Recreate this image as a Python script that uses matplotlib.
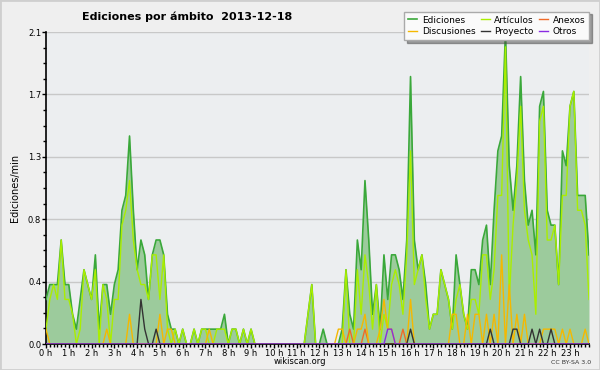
import numpy as np
import matplotlib
matplotlib.use('Agg')
import matplotlib.pyplot as plt
from matplotlib.ticker import MultipleLocator, FixedLocator
from matplotlib.patches import Rectangle

# Ediciones/min por tramos de 10 minutos (6 por hora)
ediciones = [
    0.3, 0.4, 0.4, 0.4, 0.7, 0.4,   # 0 h
    0.4, 0.2, 0.1, 0.3, 0.5, 0.4,   # 1 h
    0.3, 0.6, 0.1, 0.4, 0.4, 0.2,   # 2 h
    0.4, 0.5, 0.9, 1.0, 1.4, 0.9,   # 3 h
    0.5, 0.7, 0.6, 0.3, 0.6, 0.7,   # 4 h
    0.7, 0.6, 0.2, 0.1, 0.1, 0.0,   # 5 h
    0.1, 0.0, 0.0, 0.1, 0.0, 0.1,   # 6 h
    0.1, 0.1, 0.1, 0.1, 0.1, 0.2,   # 7 h
    0.0, 0.1, 0.1, 0.0, 0.1, 0.0,   # 8 h
    0.1, 0.0, 0.0, 0.0, 0.0, 0.0,   # 9 h
    0.0, 0.0, 0.0, 0.0, 0.0, 0.0,   # 10 h
    0.0, 0.0, 0.0, 0.2, 0.4, 0.0,   # 11 h
    0.0, 0.1, 0.0, 0.0, 0.0, 0.0,   # 12 h
    0.1, 0.5, 0.2, 0.1, 0.7, 0.5,   # 13 h
    1.1, 0.7, 0.2, 0.4, 0.1, 0.6,   # 14 h
    0.3, 0.6, 0.6, 0.5, 0.3, 0.7,   # 15 h
    1.8, 0.7, 0.5, 0.6, 0.4, 0.1,   # 16 h
    0.2, 0.2, 0.5, 0.4, 0.3, 0.1,   # 17 h
    0.6, 0.4, 0.2, 0.1, 0.5, 0.5,   # 18 h
    0.4, 0.7, 0.8, 0.4, 0.9, 1.3,   # 19 h
    1.4, 2.1, 1.2, 0.9, 1.2, 1.8,   # 20 h
    1.1, 0.8, 0.9, 0.6, 1.6, 1.7,   # 21 h
    0.9, 0.8, 0.8, 0.4, 1.3, 1.2,   # 22 h
    1.6, 1.7, 1.0, 1.0, 1.0, 0.6,   # 23 h
]

articulos = [
    0.1, 0.3, 0.4, 0.3, 0.7, 0.3,
    0.3, 0.2, 0.0, 0.1, 0.5, 0.4,
    0.3, 0.5, 0.0, 0.4, 0.3, 0.0,
    0.3, 0.3, 0.8, 0.9, 1.1, 0.7,
    0.5, 0.4, 0.4, 0.3, 0.6, 0.6,
    0.3, 0.6, 0.1, 0.0, 0.1, 0.0,
    0.1, 0.0, 0.0, 0.1, 0.0, 0.1,
    0.1, 0.0, 0.0, 0.1, 0.1, 0.1,
    0.0, 0.1, 0.1, 0.0, 0.1, 0.0,
    0.1, 0.0, 0.0, 0.0, 0.0, 0.0,
    0.0, 0.0, 0.0, 0.0, 0.0, 0.0,
    0.0, 0.0, 0.0, 0.2, 0.4, 0.0,
    0.0, 0.0, 0.0, 0.0, 0.0, 0.0,
    0.0, 0.5, 0.0, 0.0, 0.5, 0.2,
    0.6, 0.4, 0.1, 0.4, 0.0, 0.2,
    0.1, 0.4, 0.5, 0.4, 0.2, 0.6,
    1.3, 0.4, 0.5, 0.6, 0.3, 0.1,
    0.2, 0.2, 0.5, 0.4, 0.3, 0.1,
    0.3, 0.4, 0.2, 0.1, 0.3, 0.3,
    0.2, 0.6, 0.6, 0.3, 0.5, 1.0,
    1.0, 2.0, 0.3, 0.8, 1.1, 1.6,
    0.9, 0.7, 0.6, 0.2, 1.5, 1.6,
    0.7, 0.7, 0.8, 0.4, 1.0, 1.0,
    1.6, 1.7, 0.9, 0.9, 0.8, 0.3,
]

# series poco densas: tramo -> valor
discusiones = {0: 0.1, 16: 0.1, 22: 0.2, 30: 0.2, 32: 0.1, 33: 0.1, 43: 0.1,
               77: 0.1, 78: 0.1, 82: 0.1, 83: 0.1, 84: 0.2, 88: 0.1, 89: 0.3,
               90: 0.1, 91: 0.1, 96: 0.3, 107: 0.2, 108: 0.2, 111: 0.2,
               113: 0.2, 114: 0.2, 116: 0.2, 118: 0.2, 120: 0.6, 122: 0.4,
               124: 0.2, 126: 0.2, 131: 0.1, 132: 0.1, 133: 0.1, 134: 0.1,
               136: 0.1, 138: 0.1, 142: 0.1}
proyecto = {25: 0.3, 26: 0.1, 29: 0.1, 96: 0.1, 117: 0.1, 123: 0.1, 124: 0.1,
            128: 0.1, 130: 0.1, 133: 0.1}
anexos = {80: 0.1, 84: 0.1, 94: 0.1}
otros = {90: 0.1, 91: 0.1}

y_ticks = [0.0, 0.42, 0.84, 1.26, 1.68, 2.1]
y_labels = ['0.0', '0.4', '0.8', '1.3', '1.7', '2.1']
x_labels = ['%d h' % h for h in range(24)]

n = len(ediciones)
horas = np.arange(n) / 6.0


def completar(d):
    serie = np.zeros(n)
    for k, v in d.items():
        serie[k] = v
    return serie


plt.rcParams['font.family'] = ['DejaVu Sans']
fig = plt.figure(figsize=(6, 3.7), dpi=100, facecolor='#efefef')
ax = fig.add_axes([46 / 600, 26 / 370, 543 / 600, 312 / 370])
ax.set_facecolor('#eceef0')

# relleno y líneas
ax.fill_between(horas, 0, ediciones, color='#9ccb9c', lw=0, zorder=2)
ax.plot(horas, ediciones, color='#3aa83a', lw=1.2, zorder=3, label='Ediciones')
ax.plot(horas, articulos, color='#aaee00', lw=1.0, zorder=4, label='Artículos')
ax.plot(horas, completar(anexos), color='#f06a28', lw=1.0, zorder=5, label='Anexos')
ax.plot(horas, completar(discusiones), color='#f5b800', lw=1.0, zorder=5, label='Discusiones')
ax.plot(horas, completar(proyecto), color='#333333', lw=1.0, zorder=6, label='Proyecto')
ax.plot(horas, completar(otros), color='#8a2be2', lw=1.0, zorder=6, label='Otros')

ax.set_xlim(0, horas[-1])
ax.set_ylim(0, 2.1)
ax.yaxis.set_major_locator(FixedLocator(y_ticks))
ax.set_yticklabels(y_labels)
ax.yaxis.set_minor_locator(MultipleLocator(0.105))
ax.xaxis.set_major_locator(FixedLocator(range(24)))
ax.set_xticklabels(x_labels)
ax.xaxis.set_minor_locator(MultipleLocator(1 / 6))
ax.grid(axis='y', color='#c8c8c8', lw=1, zorder=1)
ax.tick_params(axis='both', which='major', labelsize=6, length=3, width=1, pad=0.5, colors='#000000')
ax.tick_params(axis='both', which='minor', length=2.5, width=1)
for s in ['top', 'right']:
    ax.spines[s].set_visible(False)
for s in ['left', 'bottom']:
    ax.spines[s].set_linewidth(1.2)
    ax.spines[s].set_color('black')

ax.set_ylabel('Ediciones/min', fontsize=7, labelpad=6)
fig.text(0.312, 0.954, 'Ediciones por ámbito  2013-12-18', fontsize=8,
         fontweight='bold', ha='center', va='center')
fig.text(0.5, 0.022, 'wikiscan.org', fontsize=6, ha='center', va='center')
fig.text(0.985, 0.020, 'CC BY-SA 3.0', fontsize=4.5, ha='right', va='center', color='#333333')

# leyenda (orden por columnas)
handles, labels = ax.get_legend_handles_labels()
orden = ['Ediciones', 'Discusiones', 'Artículos', 'Proyecto', 'Anexos', 'Otros']
hmap = dict(zip(labels, handles))
leg = fig.legend([hmap[k] for k in orden], orden, ncol=3, loc='upper right',
                 bbox_to_anchor=(594 / 600, 1 - 7 / 370), fontsize=6.5,
                 handlelength=1.0, handletextpad=0.5, columnspacing=0.6,
                 labelspacing=0.3, borderpad=0.45, fancybox=False, shadow=True,
                 framealpha=1, edgecolor='#aaaaaa', facecolor='#fafafa')
leg.set_zorder(10)

fig.patches.append(Rectangle((0, 0), 1, 1, transform=fig.transFigure,
                             fill=False, edgecolor='#cfcfcf', lw=2))

plt.savefig('out.png', dpi=100, facecolor=fig.get_facecolor())
